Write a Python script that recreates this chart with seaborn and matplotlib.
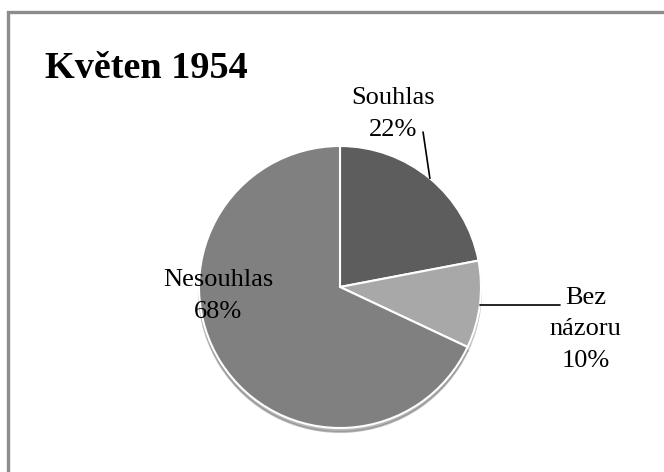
import matplotlib
matplotlib.use("Agg")
import matplotlib.pyplot as plt
import seaborn as sns
import numpy as np
from matplotlib.patches import Rectangle

# data
title = "Květen 1954"
categories = ["Souhlas", "Bez\nnázoru", "Nesouhlas"]
values = [22, 10, 68]
colors = ["#5d5d5d", "#a8a8a8", "#808080"]

sns.set_theme(style="white")
plt.rcParams["font.family"] = ["Liberation Serif", "DejaVu Serif"]
plt.rcParams["text.color"] = "black"

W, H = 664, 472
fig = plt.figure(figsize=(W / 100, H / 100), dpi=100)
fig.patch.set_facecolor("white")

# outer frame (runs off the right/bottom edge like the source)
fig.patches.append(Rectangle((8 / W, -0.2), 1.2, 1 - 12 / H + 0.2, transform=fig.transFigure,
                             fill=False, edgecolor="#8c8c8c", linewidth=2.4, zorder=0))

# pie centre at (340, 287) px, radius 141 px
R, cx, cy = 141.0, 340.0, 287.0
ax = fig.add_axes([0, 0, 1, 1])
wedges, _ = ax.pie(values, colors=colors, startangle=90, counterclock=False,
                   wedgeprops=dict(edgecolor="white", linewidth=1.5),
                   shadow=dict(ox=0.0, oy=-0.02, shade=0.12))
ax.set_xlim(-cx / R, (W - cx) / R)
ax.set_ylim((cy - H) / R, cy / R)
ax.set_aspect("auto")
ax.axis("off")

# mid angles (clockwise from top)
cum = np.cumsum([0] + values)
mids = [(cum[i] + values[i] / 2) / 100 * 2 * np.pi for i in range(len(values))]
fs = 19
ls = 1.55

# Souhlas: label above, leader line
a = mids[0]
edge = (np.sin(a), np.cos(a))
ax.plot([edge[0], 0.589], [edge[1], 1.099], color="black", lw=1.2)
ax.text(0.376, 1.227, f"{categories[0]}\n{values[0]}%", ha="center", va="center",
        fontsize=fs, linespacing=ls, color="black")

# Bez názoru: label right, horizontal leader
a = mids[1]
edge = (np.sin(a), np.cos(a))
ax.plot([edge[0], 1.56], [edge[1], edge[1]], color="black", lw=1.2)
ax.text(1.74, -0.30, f"{categories[1]}\n{values[1]}%", ha="center", va="center",
        fontsize=fs, linespacing=ls, color="black")

# Nesouhlas: inside the slice
ax.text(-0.865, -0.064, f"{categories[2]}\n{values[2]}%", ha="center", va="center",
        fontsize=fs, linespacing=ls, color="black")

fig.text(45 / W, 1 - 78 / H, title, ha="left", va="baseline", fontsize=27.5,
         fontweight="bold", color="black")

fig.savefig("out.png", dpi=100)
